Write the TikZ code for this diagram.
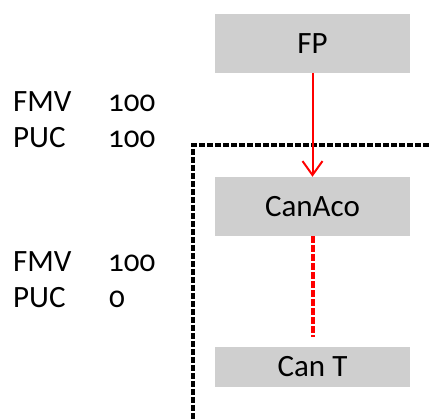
\documentclass[tikz,border=0pt]{standalone}
\usepackage{fontspec}
\setmainfont{Carlito}[Numbers=OldStyle]
\usetikzlibrary{arrows.meta}
\definecolor{boxgray}{RGB}{207,207,207}
\definecolor{flowred}{RGB}{255,0,0}

\begin{document}
\begin{tikzpicture}[x = 1pt, y = -1pt]
\tikzstyle{BoxStyle}=[
fill = boxgray,
minimum width = 195pt,
inner sep = 0pt,
font = \fontsize{31}{36}\selectfont]
\tikzstyle{LabelStyle}=[
anchor = base west,
inner sep = 0pt,
font = \fontsize{31}{36}\selectfont]
\useasboundingbox (0,0) rectangle (429,419);
% boxes
\node[BoxStyle, minimum height = 59pt] (fp) at (312.5,43.5) {FP};
\node[BoxStyle, minimum height = 59pt] (canaco) at (312.5,206.5) {CanAco};
\node[BoxStyle, minimum height = 40pt] (cant) at (312.5,367) {Can T};
\coordinate (cantop) at ([yshift = 10pt]cant.north);
% labels
\node[LabelStyle] (fmv1) at (13,112) {FMV};
\node[LabelStyle] (fmv1v) at (108,112) {100};
\node[LabelStyle] (puc1) at (13,148) {PUC};
\node[LabelStyle] (puc1v) at (108,148) {100};
\node[LabelStyle] (fmv2) at (13,272) {FMV};
\node[LabelStyle] (fmv2v) at (108,272) {100};
\node[LabelStyle] (puc2) at (13,308) {PUC};
\node[LabelStyle] (puc2v) at (109,308) {0};
% boundary
\draw[line width = 3.3pt, dash pattern = on 6pt off 2pt] (429,145) -| (193,419);
% flows
\draw[flowred, line width = 2pt, -{Straight Barb[length = 14pt, width = 20pt]}] (fp) -- (canaco);
\draw[flowred, line width = 4pt, dash pattern = on 7pt off 2pt] (canaco) -- (cantop);
\end{tikzpicture}
\end{document}
